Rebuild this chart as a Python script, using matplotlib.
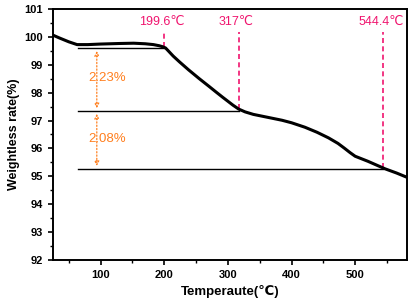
import numpy as np
import matplotlib
matplotlib.use('Agg')
import matplotlib.pyplot as plt

plt.rcParams['font.family'] = ['Liberation Sans', 'DejaVu Sans']

# TGA curve
temp = [26, 35, 50, 63, 80, 100, 130, 152, 170, 183, 192, 198, 202, 207, 214, 224, 238, 255,
        270, 282, 292, 300, 308, 317, 327, 340, 355, 370, 385, 400, 421, 440, 458, 473, 483,
        492, 500, 520, 547, 565, 581]
weight = [100.05, 99.96, 99.82, 99.72, 99.72, 99.74, 99.76, 99.77, 99.75, 99.72, 99.68, 99.64,
          99.60, 99.48, 99.31, 99.10, 98.82, 98.50, 98.23, 98.01, 97.83, 97.69, 97.55, 97.41,
          97.31, 97.22, 97.15, 97.08, 97.01, 96.92, 96.76, 96.58, 96.38, 96.18, 96.01,
          95.85, 95.72, 95.54, 95.27, 95.12, 94.97]

levels = [99.59, 97.34, 95.27]
level_ends = [199.6, 317, 544.4]
marks = [199.6, 317, 544.4]
mark_labels = ['199.6\u2103', '317\u2103', '544.4\u2103']
loss_labels = ['2.23%', '2.08%']

pink = '#F0146E'
orange = '#FF7F1E'

fig = plt.figure(figsize=(4.1, 3.06), dpi=100)
ax = fig.add_axes([0.129, 0.150, 0.863, 0.821])

ax.plot(temp, weight, color='black', lw=2.2, zorder=3, solid_joinstyle='round')

for lv, xe in zip(levels, level_ends):
    ax.plot([65, xe], [lv, lv], color='black', lw=1.0)

for xm, lab in zip(marks, mark_labels):
    yb = np.interp(xm, temp, weight)
    ax.plot([xm, xm], [yb, 100.18], color=pink, lw=1.2, ls=(0, (3, 2)))
    ax.text(xm - 4, 100.3, lab, color=pink, fontsize=9, ha='center', va='bottom')

ax_x = 94
for i in range(2):
    ax.annotate('', xy=(ax_x, levels[i + 1]), xytext=(ax_x, levels[i]),
                arrowprops=dict(arrowstyle='<|-|>', color=orange, lw=0.9, ls=':',
                                mutation_scale=7, fill=False))
    ax.text(ax_x + 16, (levels[i] + levels[i + 1]) / 2 + 0.05, loss_labels[i], color=orange,
            fontsize=9.5, ha='center', va='center')

ax.set_xlim(25, 581)
ax.set_ylim(92, 101)
ax.set_xticks([100, 200, 300, 400, 500])
ax.set_xticks([50, 150, 250, 350, 450, 550], minor=True)
ax.set_yticks(range(92, 102))
ax.set_yticks(np.arange(92.5, 101, 1), minor=True)
ax.tick_params(labelsize=8, width=1.2, length=3.5)
ax.tick_params(which='minor', width=1.0, length=2)
for t in ax.get_xticklabels() + ax.get_yticklabels():
    t.set_fontweight('bold')
for s in ax.spines.values():
    s.set_linewidth(1.4)

ax.set_xlabel('Temperaute(\u2103)', fontsize=9.5, fontweight='bold', labelpad=4)
ax.set_ylabel('Weightless rate(%)', fontsize=9, fontweight='bold', labelpad=3)

fig.savefig('out.png', dpi=100)
